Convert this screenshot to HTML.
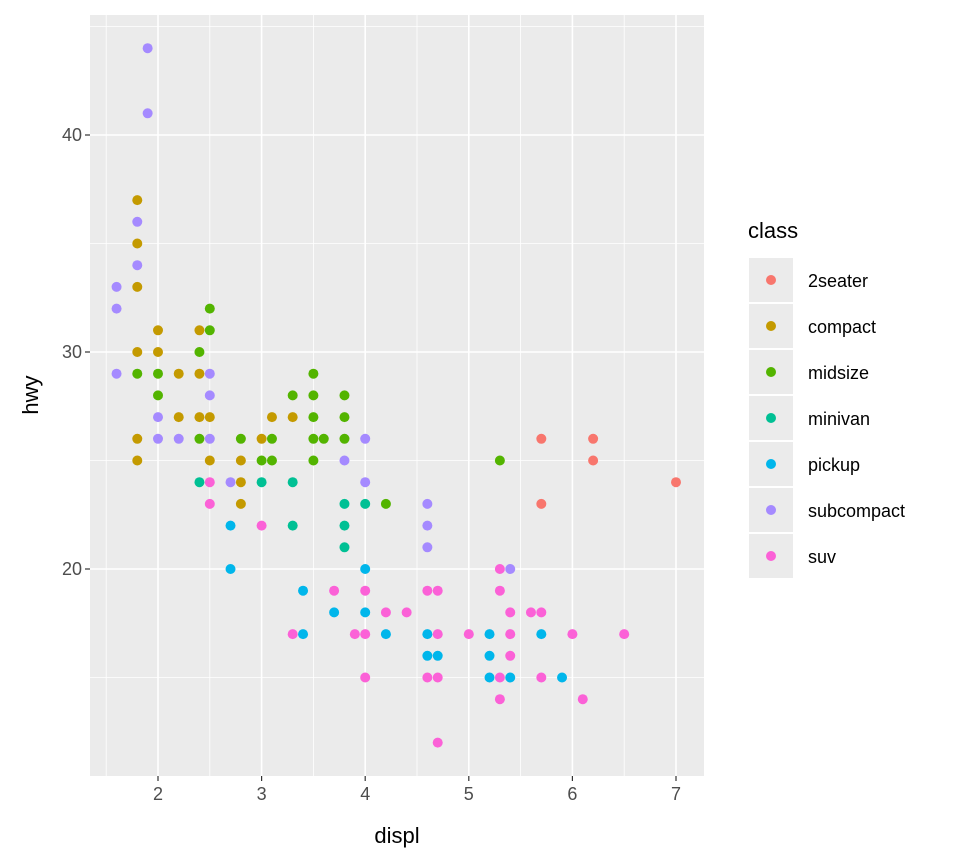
<!DOCTYPE html>
<html><head><meta charset="utf-8"><style>
body{margin:0;background:#fff;}
svg{display:block;font-family:"Liberation Sans",sans-serif;}
</style></head><body>
<svg id="chart" width="960" height="864"></svg>
<script>
const classes=["2seater","compact","midsize","minivan","pickup","subcompact","suv"];
const colors=["#F8766D","#C49A00","#53B400","#00C094","#00B6EB","#A58AFF","#FB61D7"];
const xTicks=[2,3,4,5,6,7];
const yTicks=[20,30,40];
const pts2seater=[[5.7,26],[5.7,23],[6.2,26],[6.2,25],[7.0,24]];
const ptsCompact=[[1.8,37],[1.8,35],[1.8,33],[1.8,30],[1.8,26],[1.8,25],[2.0,31],[2.0,30],[2.2,29],[2.2,27],[2.4,31],[2.4,29],[2.4,27],[2.5,27],[2.5,25],[2.8,25],[2.8,24],[2.8,23],[3.0,26],[3.1,27],[3.3,27]];
const ptsMidsize=[[1.8,29],[2.0,29],[2.0,28],[2.4,30],[2.4,26],[2.5,32],[2.5,31],[2.8,26],[3.0,25],[3.1,26],[3.1,25],[3.3,28],[3.5,29],[3.5,28],[3.5,27],[3.5,26],[3.5,25],[3.6,26],[3.8,28],[3.8,27],[3.8,26],[4.2,23],[5.3,25]];
const ptsMinivan=[[2.4,24],[3.0,24],[3.3,24],[3.3,22],[3.8,23],[3.8,22],[3.8,21],[4.0,23]];
const ptsPickup=[[2.7,22],[2.7,20],[3.4,19],[3.4,17],[3.7,18],[4.0,20],[4.0,18],[4.2,17],[4.6,17],[4.6,16],[4.7,16],[5.2,17],[5.2,16],[5.2,15],[5.4,15],[5.7,17],[5.9,15]];
const ptsSubcompact=[[1.6,33],[1.6,32],[1.6,29],[1.8,36],[1.8,34],[1.9,44],[1.9,41],[2.0,27],[2.0,26],[2.2,26],[2.5,29],[2.5,28],[2.5,26],[2.7,24],[3.8,25],[4.0,26],[4.0,24],[4.6,23],[4.6,22],[4.6,21],[5.4,20]];
const ptsSuv=[[2.5,24],[2.5,23],[3.0,22],[3.3,17],[3.7,19],[3.9,17],[4.0,19],[4.0,17],[4.0,15],[4.2,18],[4.4,18],[4.6,19],[4.6,15],[4.7,19],[4.7,17],[4.7,15],[4.7,12],[5.0,17],[5.3,20],[5.3,19],[5.3,15],[5.3,14],[5.4,18],[5.4,17],[5.4,16],[5.6,18],[5.7,18],[5.7,15],[6.0,17],[6.1,14],[6.5,17]];
const series=[pts2seater,ptsCompact,ptsMidsize,ptsMinivan,ptsPickup,ptsSubcompact,ptsSuv];

const NS="http://www.w3.org/2000/svg";
const svg=document.getElementById("chart");
const L=90,R=704,T=15,B=776;
const sx=v=>158+(v-2)*103.6;
const sy=v=>569-(v-20)*21.7;
function mk(tag,attrs,parent){const e=document.createElementNS(NS,tag);for(const k in attrs)e.setAttribute(k,attrs[k]);(parent||svg).appendChild(e);return e;}

const panel=mk("rect",{x:L,y:T,width:R-L,height:B-T,fill:"#EBEBEB"});


const grid=mk("g",{});


for(let v=1.5;v<=7.5;v+=1){const x=sx(v);if(x>L&&x<R)mk("line",{x1:x,x2:x,y1:T,y2:B,stroke:"#fff","stroke-width":0.8},grid);}
for(let v=15;v<=45;v+=10){const y=sy(v);if(y>T&&y<B)mk("line",{x1:L,x2:R,y1:y,y2:y,stroke:"#fff","stroke-width":0.8},grid);}
xTicks.forEach(v=>{const x=sx(v);mk("line",{x1:x,x2:x,y1:T,y2:B,stroke:"#fff","stroke-width":1.6},grid);
 mk("line",{x1:x,x2:x,y1:B,y2:B+5,stroke:"#333","stroke-width":1.2});
 const t=mk("text",{x:x,y:B+24,"text-anchor":"middle","font-size":18,fill:"#4D4D4D"});t.textContent=v;
 
 });
yTicks.forEach(v=>{const y=sy(v);mk("line",{x1:L,x2:R,y1:y,y2:y,stroke:"#fff","stroke-width":1.6},grid);
 mk("line",{x1:L-5,x2:L,y1:y,y2:y,stroke:"#333","stroke-width":1.2});
 const t=mk("text",{x:L-8,y:y+6,"text-anchor":"end","font-size":18,fill:"#4D4D4D"});t.textContent=v;
 
 });
series.forEach((pts,i)=>{const g=mk("g",{fill:colors[i]});
 
 
 pts.forEach(p=>{const c=mk("circle",{cx:sx(p[0]),cy:sy(p[1]),r:5},g);
  
  });});
const xt=mk("text",{x:397,y:843,"text-anchor":"middle","font-size":22,fill:"#000"});xt.textContent="displ";


const yt=mk("text",{x:0,y:0,"text-anchor":"middle","font-size":22,fill:"#000",transform:"translate(38,395) rotate(-90)"});yt.textContent="hwy";


const lg=mk("g",{});


const lt=mk("text",{x:748,y:238,"font-size":22,fill:"#000"},lg);lt.textContent="class";


classes.forEach((c,i)=>{const cy=280+i*46;
 const e=mk("g",{},lg);
 
 
 mk("rect",{x:749,y:cy-22,width:44,height:44,fill:"#EBEBEB"},e);
 mk("circle",{cx:771,cy:cy,r:5,fill:colors[i]},e);
 const t=mk("text",{x:808,y:cy+7,"font-size":18,fill:"#000"},e);t.textContent=c;});
</script>
</body></html>
